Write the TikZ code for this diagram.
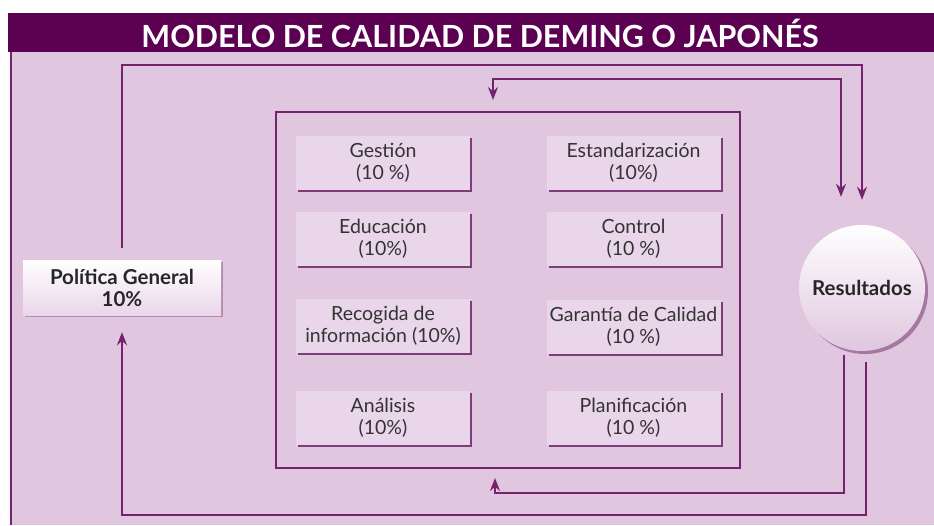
\documentclass[tikz,border=0pt]{standalone}
\usepackage{fontspec}
\setmainfont{Lato}
\usetikzlibrary{arrows.meta,shadows}

\definecolor{barpurple}{HTML}{5C0052}
\definecolor{panelbg}{HTML}{E1C6E0}
\definecolor{boxfill}{HTML}{EAD6EA}
\definecolor{linepurple}{HTML}{74236F}
\definecolor{shadowpurple}{HTML}{7E3D7A}
\definecolor{txtgray}{HTML}{333333}

\tikzset{
  factor/.style={fill=boxfill, minimum width=174pt, minimum height=54pt, inner sep=0pt,
    align=center, text=txtgray, font=\fontsize{19.5}{22}\selectfont,
    drop shadow={shadow xshift=2pt, shadow yshift=-2pt, fill=shadowpurple, opacity=1}},
  flow/.style={draw=linepurple, line width=1.5pt, -{Stealth[length=13pt,width=10pt]}},
  biflow/.style={draw=linepurple, line width=1.5pt, {Stealth[length=13pt,width=10pt]}-{Stealth[length=13pt,width=10pt]}},
}

\begin{document}
\begin{tikzpicture}[x=1pt, y=-1pt]
  \useasboundingbox (0,0) rectangle (934,525);
	%Background panel and title bar
	\fill [panelbg] (10, 52) rectangle (934, 525);
	\draw [linepurple, line width=1.2pt] (11, 52) -- (11, 525);
	\fill [barpurple] (8, 13) rectangle (934, 52);
	\node (title) at (480, 33) {\color{white}\fontsize{30.5}{32}\selectfont\bfseries MODELO DE CALIDAD DE DEMING O JAPONÉS};
	%Inner box
	\node [draw=linepurple, line width=1.2pt, minimum width=464pt, minimum height=356pt, inner sep=0pt] (inner) at (508, 290) {};
	%Left column
	\node [factor] (gest) at (383, 163) {Gestión\\(10 \%)};
	\node [factor] (educ) at (383, 239) {Educación\\(10\%)};
	\node [factor] (recog) at (383, 325.5) {Recogida de\\información (10\%)};
	\node [factor] (anal) at (383, 417.5) {Análisis\\(10\%)};
	%Right column
	\node [factor] (estand) at (633.5, 163) {Estandarización\\(10\%)};
	\node [factor] (contr) at (633.5, 239) {Control\\(10 \%)};
	\node [factor] (garant) at (633.5, 326.5) {Garantía de Calidad\\(10 \%)};
	\node [factor] (planif) at (633.5, 417.5) {Planificación\\(10 \%)};
	%Politica General
	\node [top color=white, bottom color=boxfill, minimum width=198pt, minimum height=55pt, inner sep=0pt,
	  align=center, text=black!85, font=\fontsize{20.5}{22}\selectfont\bfseries,
	  drop shadow={shadow xshift=2pt, shadow yshift=-2pt, fill=shadowpurple!60, opacity=1}] (pol) at (122, 287.5) {Política General\\10\%};
	%Resultados
	\node [circle, top color=white, bottom color=boxfill!90!shadowpurple, minimum size=126pt, inner sep=0pt,
	  text=black!85, font=\fontsize{20.5}{22}\selectfont\bfseries,
	  drop shadow={shadow xshift=3pt, shadow yshift=-3pt, fill=shadowpurple!70, opacity=1}] (res) at (862, 288) {Resultados};
	%Connectors
	\coordinate (top1) at (862, 65);
	\coordinate (top2) at (841, 79);
	\coordinate (inA) at (493, 112);
	\coordinate (inB) at (495, 468);
	\coordinate (bot1) at (844, 493);
	\coordinate (bot2) at (866, 515);
	\draw [flow, shorten <=12pt, shorten >=25pt] (pol.north) |- (top1) -- (res.north);   %Upper loop
	\draw [biflow, shorten <=12pt, shorten >=28pt] (inA) |- (top2) -- (res.north -| top2); %Box <-> results
	\draw [flow, shorten <=4pt, shorten >=10pt] (res.south -| bot1) -- (bot1) -| (inB);  %Back to box
	\draw [flow, shorten <=11pt, shorten >=17pt] (res.south -| bot2) -- (bot2) -| (pol.south); %Back to policy
\end{tikzpicture}
\end{document}
